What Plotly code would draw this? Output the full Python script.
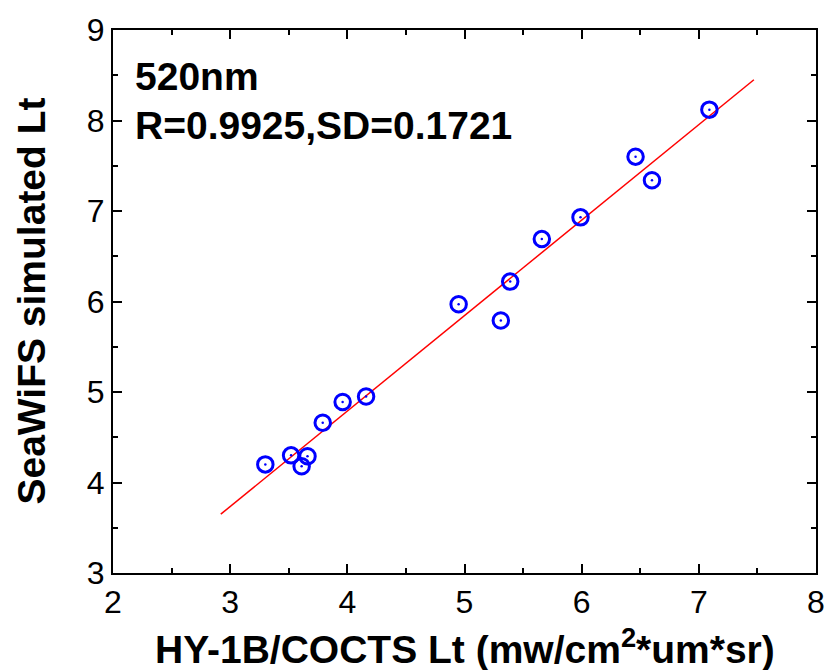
import plotly.graph_objects as go

# Data
hy1b_lt = [7.09, 6.46, 6.60, 5.99, 5.66, 5.39, 4.95, 5.31, 4.16, 3.96, 3.79, 3.30, 3.52, 3.61, 3.66]
seawifs_lt = [8.12, 7.60, 7.34, 6.93, 6.69, 6.22, 5.97, 5.79, 4.95, 4.89, 4.66, 4.20, 4.30, 4.18, 4.29]
fit_x = [2.92, 7.47]
fit_y = [3.65, 8.45]
x_ticks = [2, 3, 4, 5, 6, 7, 8]
y_ticks = [3, 4, 5, 6, 7, 8, 9]
band_label = "520nm"
stats_label = "R=0.9925,SD=0.1721"
x_title = "HY-1B/COCTS Lt (mw/cm<sup>2</sup>*um*sr)"
y_title = "SeaWiFS simulated Lt"

fig = go.Figure()
fig.add_trace(go.Scatter(x=fit_x, y=fit_y, mode="lines",
                         line=dict(color="#ff0000", width=1.5), showlegend=False))
fig.add_trace(go.Scatter(x=hy1b_lt, y=seawifs_lt, mode="markers",
                         marker=dict(symbol="circle-open", size=15.5, color="#0000ff",
                                     line=dict(width=3, color="#0000ff")),
                         showlegend=False))
fig.add_trace(go.Scatter(x=hy1b_lt, y=seawifs_lt, mode="markers",
                         marker=dict(symbol="circle", size=2.5, color="#0000ff"),
                         showlegend=False))

fam = "Liberation Sans, Arial, sans-serif"
axis_common = dict(
    showline=True, linecolor="black", linewidth=2, mirror="ticks",
    ticks="inside", ticklen=9, tickwidth=1.5, tickcolor="black",
    showgrid=False, zeroline=False, automargin=False,
    tickfont=dict(family=fam, size=32, color="black"),
    minor=dict(ticks="inside", ticklen=5, tickwidth=1.5, tickcolor="black", dtick=0.5, showgrid=False),
)

fig.update_xaxes(range=[2, 8], tickvals=x_ticks, ticktext=[str(v) for v in x_ticks], **axis_common)
fig.update_yaxes(range=[3, 9], tickvals=y_ticks, ticktext=[str(v) for v in y_ticks], **axis_common)

# axis titles
fig.add_annotation(text="<b>" + x_title + "</b>", xref="paper", yref="paper",
                   x=0.5, y=-0.135, xanchor="center", yanchor="middle", showarrow=False,
                   font=dict(family=fam, size=39, color="black"))
fig.add_annotation(text="<b>" + y_title + "</b>", xref="paper", yref="paper",
                   x=-0.1166, y=0.5, xanchor="center", yanchor="middle", showarrow=False,
                   textangle=-90, font=dict(family=fam, size=39, color="black"))

# in-plot labels
fig.add_annotation(text="<b>" + band_label + "</b>", xref="paper", yref="paper",
                   x=0.029, y=0.915, xanchor="left", yanchor="middle", showarrow=False,
                   font=dict(family=fam, size=39, color="black"))
fig.add_annotation(text="<b>" + stats_label + "</b>", xref="paper", yref="paper",
                   x=0.029, y=0.825, xanchor="left", yanchor="middle", showarrow=False,
                   font=dict(family=fam, size=39, color="black"))

fig.update_layout(width=826, height=670, margin=dict(l=113, r=10, t=30, b=97),
                  plot_bgcolor="white", paper_bgcolor="white")

fig.write_html("out.html", config={"displayModeBar": False},
               post_script="document.body.style.margin='0';document.body.style.overflow='hidden';")
